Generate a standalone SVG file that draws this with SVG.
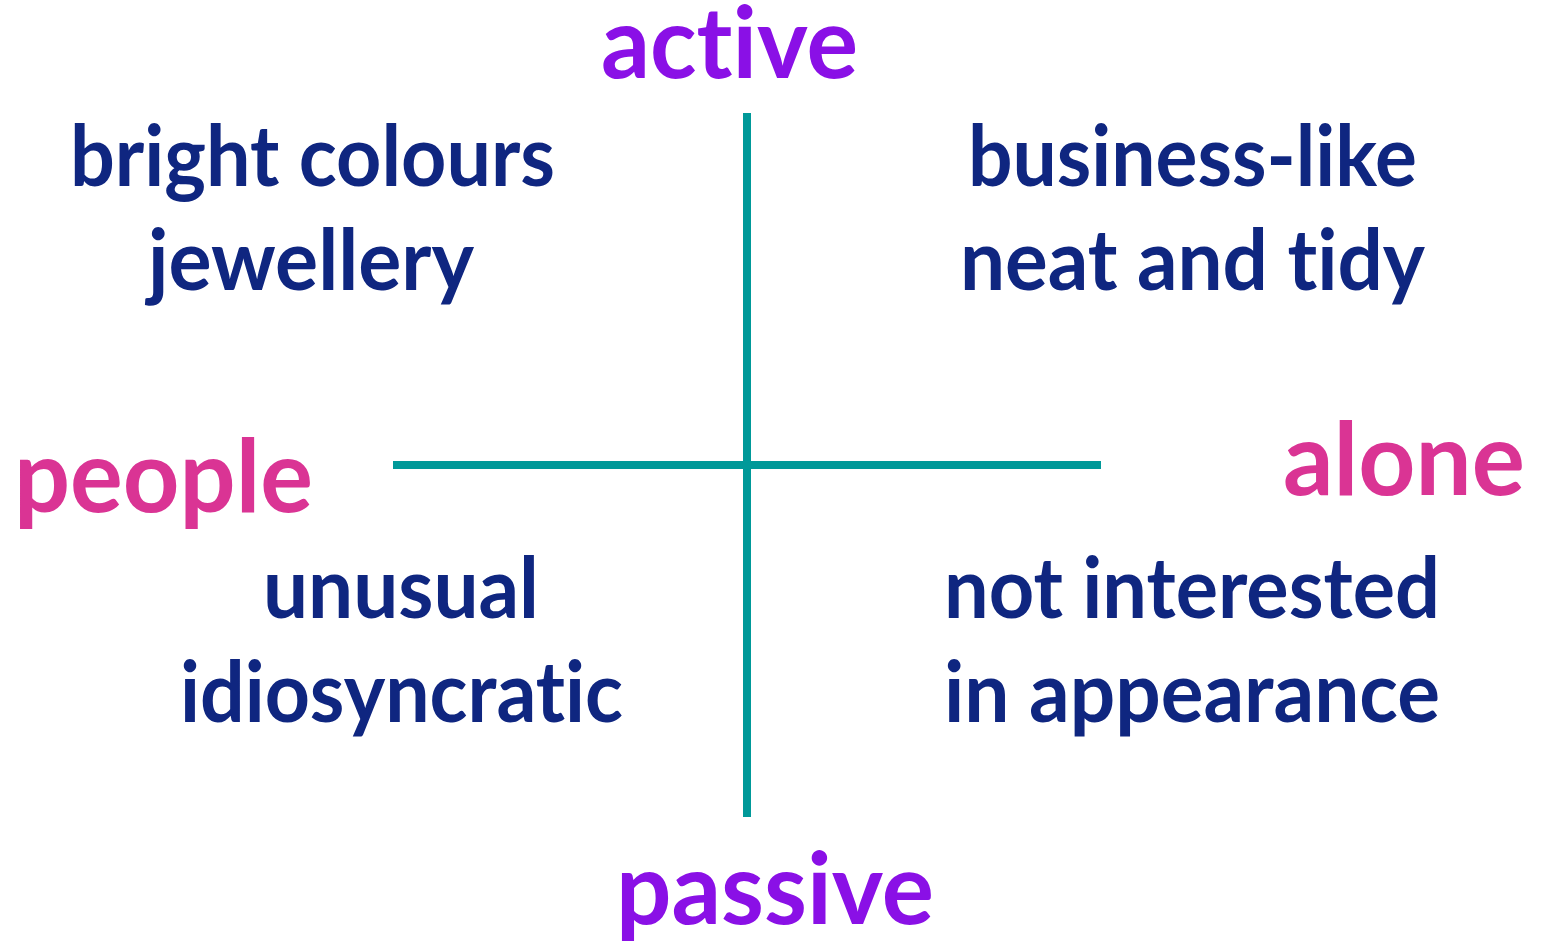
<svg xmlns="http://www.w3.org/2000/svg" width="1543" height="942" viewBox="0 0 1543 942">
<style>
text{font-family:Lato,"Open Sans","Liberation Sans",sans-serif;font-weight:bold;font-variant-ligatures:none;font-feature-settings:"liga" 0,"clig" 0}
.ax{fill:#8A10E6;font-size:100px}
.sd{fill:#DA3494;font-size:102px}
.it{fill:#0F2680;font-size:84px}
.ln{stroke:#009999;stroke-width:8;fill:none}
</style>
<rect width="1543" height="942" fill="#fff"/>
<g id="connectors">
<line class="ln" x1="747" y1="113" x2="747" y2="817"/>
<line class="ln" x1="393" y1="465" x2="1101" y2="465"/>
</g>
<g id="active"><text class="ax" x="601" y="78" textLength="257" lengthAdjust="spacingAndGlyphs">active</text></g>
<g id="passive"><text class="ax" x="616" y="924" textLength="318" lengthAdjust="spacingAndGlyphs">passive</text></g>
<g id="people"><text class="sd" x="14" y="512" textLength="299" lengthAdjust="spacingAndGlyphs">people</text></g>
<g id="alone"><text class="sd" x="1283" y="495" textLength="242" lengthAdjust="spacingAndGlyphs">alone</text></g>
<g id="q1">
<text class="it" x="70" y="186" textLength="485" lengthAdjust="spacingAndGlyphs">bright colours</text>
<text class="it" x="148" y="290" textLength="326" lengthAdjust="spacingAndGlyphs">jewellery</text>
</g>
<g id="q2">
<text class="it" x="968" y="186" textLength="449" lengthAdjust="spacingAndGlyphs">business-like</text>
<text class="it" x="960" y="290" textLength="465" lengthAdjust="spacingAndGlyphs">neat and tidy</text>
</g>
<g id="q3">
<text class="it" x="263" y="618" textLength="276" lengthAdjust="spacingAndGlyphs">unusual</text>
<text class="it" x="180" y="722" textLength="443" lengthAdjust="spacingAndGlyphs">idiosyncratic</text>
</g>
<g id="q4">
<text class="it" x="944" y="618" textLength="496" lengthAdjust="spacingAndGlyphs">not interested</text>
<text class="it" x="944" y="722" textLength="496" lengthAdjust="spacingAndGlyphs">in appearance</text>
</g>
</svg>
